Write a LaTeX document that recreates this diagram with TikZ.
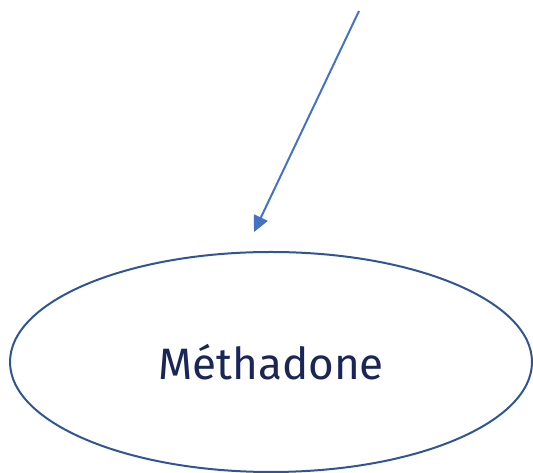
\documentclass[tikz,border=0pt]{standalone}
\usepackage{fontspec}
\setmainfont{Fira Sans}
\usetikzlibrary{arrows.meta,shapes.geometric}
\definecolor{arrowblue}{HTML}{4472C4}
\definecolor{ellblue}{HTML}{2F5597}
\definecolor{textnavy}{HTML}{1B2658}
\tikzset{
  ellnode/.style={draw=ellblue, line width=2pt, ellipse, minimum width=522pt, minimum height=220pt, inner sep=0pt, text=textnavy, font=\fontsize{44}{50}\selectfont},
  conn/.style={draw=arrowblue, line width=2pt, -{Triangle[length=16pt,width=15pt]}}
}
\begin{document}
\begin{tikzpicture}[x=1pt,y=1pt]
\useasboundingbox (0,0) rectangle (533,473);
\node[ellnode] (m) at (271,111) {Méthadone};
\coordinate (s) at (359,462);
\coordinate (e) at (254,241);
\draw[conn] (s) -- (e);
\end{tikzpicture}
\end{document}
